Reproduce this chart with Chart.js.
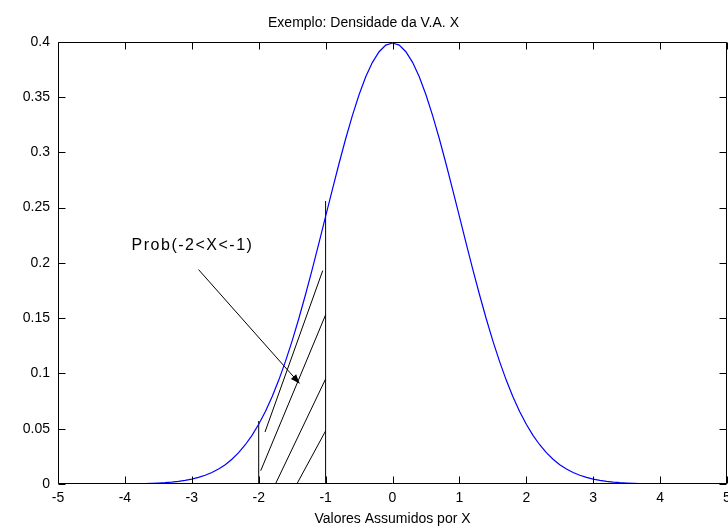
<!DOCTYPE html>
<html>
<head>
<meta charset="utf-8">
<title>Exemplo: Densidade da V.A. X</title>
<script src="https://cdn.jsdelivr.net/npm/chart.js@4/dist/chart.umd.min.js"></script>
<style>
  html, body { margin: 0; padding: 0; background: #ffffff; }
  #wrap { width: 728px; height: 529px; position: relative; }
</style>
</head>
<body>
<div id="wrap"><canvas id="c"></canvas></div>
<script>
// Sample points of the density curve
const xValues = [
  -5.0, -4.9, -4.8, -4.7, -4.6, -4.5, -4.4, -4.3, -4.2, -4.1,
  -4.0, -3.9, -3.8, -3.7, -3.6, -3.5, -3.4, -3.3, -3.2, -3.1,
  -3.0, -2.9, -2.8, -2.7, -2.6, -2.5, -2.4, -2.3, -2.2, -2.1,
  -2.0, -1.9, -1.8, -1.7, -1.6, -1.5, -1.4, -1.3, -1.2, -1.1,
  -1.0, -0.9, -0.8, -0.7, -0.6, -0.5, -0.4, -0.3, -0.2, -0.1,
   0.0,  0.1,  0.2,  0.3,  0.4,  0.5,  0.6,  0.7,  0.8,  0.9,
   1.0,  1.1,  1.2,  1.3,  1.4,  1.5,  1.6,  1.7,  1.8,  1.9,
   2.0,  2.1,  2.2,  2.3,  2.4,  2.5,  2.6,  2.7,  2.8,  2.9,
   3.0,  3.1,  3.2,  3.3,  3.4,  3.5,  3.6,  3.7,  3.8,  3.9,
   4.0,  4.1,  4.2,  4.3,  4.4,  4.5,  4.6,  4.7,  4.8,  4.9,
   5.0
];
const densityValues = [
  0.0000, 0.0000, 0.0000, 0.0000, 0.0000, 0.0000, 0.0000, 0.0000, 0.0001, 0.0001,
  0.0001, 0.0002, 0.0003, 0.0004, 0.0006, 0.0009, 0.0012, 0.0017, 0.0024, 0.0033,
  0.0044, 0.0060, 0.0079, 0.0104, 0.0136, 0.0175, 0.0224, 0.0283, 0.0355, 0.0440,
  0.0540, 0.0656, 0.0790, 0.0940, 0.1109, 0.1295, 0.1497, 0.1714, 0.1942, 0.2179,
  0.2420, 0.2661, 0.2897, 0.3123, 0.3332, 0.3521, 0.3683, 0.3814, 0.3910, 0.3970,
  0.3989, 0.3970, 0.3910, 0.3814, 0.3683, 0.3521, 0.3332, 0.3123, 0.2897, 0.2661,
  0.2420, 0.2179, 0.1942, 0.1714, 0.1497, 0.1295, 0.1109, 0.0940, 0.0790, 0.0656,
  0.0540, 0.0440, 0.0355, 0.0283, 0.0224, 0.0175, 0.0136, 0.0104, 0.0079, 0.0060,
  0.0044, 0.0033, 0.0024, 0.0017, 0.0012, 0.0009, 0.0006, 0.0004, 0.0003, 0.0002,
  0.0001, 0.0001, 0.0001, 0.0000, 0.0000, 0.0000, 0.0000, 0.0000, 0.0000, 0.0000,
  0.0000
];

// Axis ticks
const xTicks = [-5, -4, -3, -2, -1, 0, 1, 2, 3, 4, 5];
const yTicks = [0, 0.05, 0.1, 0.15, 0.2, 0.25, 0.3, 0.35, 0.4];

// Limits of the shaded interval and height of its vertical edges
const boundX = [-2, -1];
const boundTop = [0.057, 0.256];

// Hatching segments inside the interval: start and end points
const hatchX0 = [-1.906, -1.970, -1.750, -1.430];
const hatchY0 = [0.047, 0.012, 0.000, 0.000];
const hatchX1 = [-1.043, -1.000, -1.000, -1.000];
const hatchY1 = [0.193, 0.153, 0.095, 0.048];

// Annotation text and its arrow
const noteText = 'Prob(-2<X<-1)';
const notePos = [-3.90, 0.216];
const arrowFrom = [-2.90, 0.194];
const arrowTo = [-1.39, 0.091];

const FONT = '"Liberation Sans", Arial, Helvetica, sans-serif';

function pts(xs, ys) { return xs.map((x, i) => ({ x: x, y: ys[i] })); }

const blackLine = (data) => ({
  data: data, showLine: true, borderColor: '#000000', borderWidth: 1,
  pointRadius: 0, pointHoverRadius: 0, fill: false, tension: 0
});

const datasets = [
  {
    label: 'densidade',
    data: pts(xValues, densityValues),
    showLine: true, borderColor: '#0000ff', borderWidth: 1.2,
    pointRadius: 0, pointHoverRadius: 0, fill: false, tension: 0
  }
];
boundX.forEach((bx, i) => datasets.push(blackLine([{ x: bx, y: 0 }, { x: bx, y: boundTop[i] }])));
hatchX0.forEach((hx, i) => datasets.push(blackLine([{ x: hx, y: hatchY0[i] }, { x: hatchX1[i], y: hatchY1[i] }])));
datasets.push(blackLine([{ x: arrowFrom[0], y: arrowFrom[1] }, { x: arrowTo[0], y: arrowTo[1] }]));

// Box around the axes, inward ticks, annotation text and arrow head
const axesDecor = {
  id: 'axesDecor',
  afterDatasetsDraw(chart) {
    const { ctx, chartArea: a, scales: { x, y } } = chart;
    ctx.save();
    ctx.strokeStyle = '#000000';
    ctx.lineWidth = 1;
    const L = Math.round(a.left) + 0.5, R = Math.round(a.right) - 0.5;
    const T = Math.round(a.top) + 0.5, B = Math.round(a.bottom) - 0.5;
    ctx.beginPath();
    ctx.rect(L, T, R - L, B - T);
    ctx.stroke();
    const tl = 7;
    ctx.beginPath();
    xTicks.forEach(v => {
      const px = Math.round(x.getPixelForValue(v)) + 0.5;
      ctx.moveTo(px, B); ctx.lineTo(px, B - tl);
      ctx.moveTo(px, T); ctx.lineTo(px, T + tl);
    });
    yTicks.forEach(v => {
      const py = Math.round(y.getPixelForValue(v)) + 0.5;
      ctx.moveTo(L, py); ctx.lineTo(L + tl, py);
      ctx.moveTo(R, py); ctx.lineTo(R - tl, py);
    });
    ctx.stroke();

    // annotation
    ctx.fillStyle = '#000000';
    ctx.font = '16px ' + FONT;
    if ('letterSpacing' in ctx) ctx.letterSpacing = '1.5px';
    ctx.textAlign = 'left';
    ctx.textBaseline = 'middle';
    ctx.fillText(noteText, x.getPixelForValue(notePos[0]), y.getPixelForValue(notePos[1]));
    if ('letterSpacing' in ctx) ctx.letterSpacing = '0px';

    // arrow head
    const hx = x.getPixelForValue(arrowTo[0]), hy = y.getPixelForValue(arrowTo[1]);
    const tx = x.getPixelForValue(arrowFrom[0]), ty = y.getPixelForValue(arrowFrom[1]);
    const ang = Math.atan2(hy - ty, hx - tx);
    const len = 9, half = 3.5;
    ctx.beginPath();
    ctx.moveTo(hx, hy);
    ctx.lineTo(hx - len * Math.cos(ang) + half * Math.sin(ang), hy - len * Math.sin(ang) - half * Math.cos(ang));
    ctx.lineTo(hx - len * Math.cos(ang) - half * Math.sin(ang), hy - len * Math.sin(ang) + half * Math.cos(ang));
    ctx.closePath();
    ctx.fill();
    ctx.restore();
  }
};

new Chart(document.getElementById('c'), {
  type: 'scatter',
  data: { datasets: datasets },
  plugins: [axesDecor],
  options: {
    responsive: true,
    maintainAspectRatio: false,
    animation: false,
    events: [],
    layout: { padding: { left: 0, right: 1, top: 0, bottom: 0 } },
    plugins: {
      legend: { display: false },
      tooltip: { enabled: false },
      title: {
        display: true,
        text: 'Exemplo: Densidade da V.A. X',
        color: '#000000',
        font: { family: FONT, size: 14, weight: 'normal' },
        padding: { top: 15, bottom: 10 }
      }
    },
    scales: {
      x: {
        type: 'linear', min: -5, max: 5,
        grid: { display: false, drawTicks: false },
        border: { display: false },
        afterBuildTicks(s) { s.ticks = xTicks.map(v => ({ value: v })); },
        afterFit(s) { s.height = 45; s.paddingLeft = 0; s.paddingRight = 0; },
        ticks: {
          color: '#000000', padding: 6, maxRotation: 0, autoSkip: false,
          font: { family: FONT, size: 14 },
          callback: v => String(v)
        },
        title: {
          display: true, text: 'Valores Assumidos por X', color: '#000000',
          font: { family: FONT, size: 14 },
          padding: { top: 2, bottom: 1 }
        }
      },
      y: {
        type: 'linear', min: 0, max: 0.4,
        grid: { display: false, drawTicks: false },
        border: { display: false },
        afterBuildTicks(s) { s.ticks = yTicks.map(v => ({ value: v })); },
        afterFit(s) { s.width = 58; s.paddingTop = 0; s.paddingBottom = 0; },
        ticks: {
          color: '#000000', padding: 8, autoSkip: false,
          font: { family: FONT, size: 14 },
          callback: v => String(v)
        }
      }
    }
  }
});
</script>
</body>
</html>
